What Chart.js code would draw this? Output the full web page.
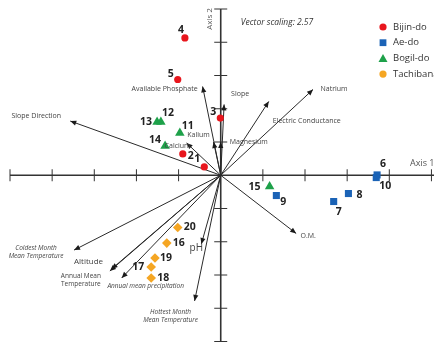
<!DOCTYPE html>
<html><head><meta charset="utf-8">
<script src="https://cdn.jsdelivr.net/npm/chart.js@4/dist/chart.umd.min.js"></script>
<style>html,body{margin:0;padding:0;background:#fff;overflow:hidden;}</style>
</head><body><canvas id="c" width="434" height="347"></canvas>
<script>
// ---------- DATA ----------
const groupNames = ['Bijin-do', 'Ae-do', 'Bogil-do', 'Tachibana'];
const bijinIds = [1, 2, 3, 4, 5];
const bijinAxis1 = [-0.39, -0.90, -0.01, -0.85, -1.02];
const bijinAxis2 = [0.25, 0.64, 1.72, 4.13, 2.88];
const aedoIds = [6, 7, 8, 9, 10];
const aedoAxis1 = [3.71, 2.68, 3.03, 1.32, 3.69];
const aedoAxis2 = [0.01, -0.79, -0.55, -0.61, -0.07];
const bogilIds = [11, 12, 13, 14, 15];
const bogilAxis1 = [-0.97, -1.42, -1.51, -1.32, 1.16];
const bogilAxis2 = [1.27, 1.60, 1.60, 0.88, -0.34];
const tachiIds = [16, 17, 18, 19, 20];
const tachiAxis1 = [-1.28, -1.65, -1.65, -1.56, -1.02];
const tachiAxis2 = [-2.04, -2.76, -3.09, -2.49, -1.57];

const vectorNames = ['Slope Direction', 'Available Phosphate', 'Slope', 'Magnesium', 'Kalium', 'Calcium',
  'Electric Conductance', 'Natrium', 'O.M.', 'pH', 'Hottest Month\nMean Temperature',
  'Annual mean precipitation', 'Annual Mean\nTemperature', 'Altitude', 'Coldest Month\nMean Temperature'];
const vectorAxis1 = [-3.57, -0.43, 0.08, 0.00, -0.17, -0.81, 1.14, 2.19, 1.79, -0.46, -0.62, -2.35, -2.63, -2.59, -3.48];
const vectorAxis2 = [1.63, 2.67, 2.13, 1.00, 1.00, 0.97, 2.22, 2.58, -1.75, -2.07, -3.78, -3.09, -2.88, -2.82, -2.25];

const axisTicks = [-5, -4, -3, -2, -1, 0, 1, 2, 3, 4, 5];
const axisTitles = ['Axis 1', 'Axis 2'];
const vectorScalingText = 'Vector scaling: 2.57';

// ---------- STYLES ----------
const FONT = '"Open Sans", "Noto Sans", sans-serif';
const groupColors = ['#e8161d', '#1b63b6', '#1ea14a', '#f5a623'];
const groupShapes = ['circle', 'rect', 'triangle', 'rectRot'];
const groupRadius = [3.6, 5, 5.5, 4.8];
// label offsets (px) for point ids
const pointLabelOffsets = {
  1: [-7, -8], 2: [8, 2], 3: [-7, -6], 4: [-4, -8], 5: [-7, -5],
  6: [6, -11], 7: [5, 10], 8: [11, 1], 9: [7, 6], 10: [9, 8],
  11: [8, -7], 12: [7, -9], 13: [-11, 0], 14: [-10, -6], 15: [-15, 0],
  16: [12, 0], 17: [-13, 0], 18: [12, 0], 19: [11, 0], 20: [12, 0]
};
// vector label style: [dx, dy, align, italic, size]
const vectorLabelStyle = [
  [-34, -5, 'center', false, 7],
  [-38, 3, 'center', false, 7],
  [16, -10, 'center', false, 7],
  [9, 0, 'left', false, 7],
  [-15, -7, 'center', false, 7],
  [-9, 3, 'center', false, 7],
  [38, 20, 'center', false, 7],
  [21, 0, 'center', false, 7],
  [12, 3, 'center', false, 7],
  [-5, 4, 'center', false, 10],
  [-24, 11, 'center', true, 6.5],
  [24, 8, 'center', true, 6.5],
  [-29, 5, 'center', false, 6.5],
  [-23, -7, 'center', false, 8],
  [-38, -2, 'center', true, 6.5]
];

function pts(a, b) { return a.map((v, i) => ({ x: v, y: b[i] })); }
const groupData = [
  { ids: bijinIds, d: pts(bijinAxis1, bijinAxis2) },
  { ids: aedoIds, d: pts(aedoAxis1, aedoAxis2) },
  { ids: bogilIds, d: pts(bogilAxis1, bogilAxis2) },
  { ids: tachiIds, d: pts(tachiAxis1, tachiAxis2) }
];

const datasets = [];
groupData.forEach((g, i) => {
  datasets.push({
    label: groupNames[i], data: g.d, ids: g.ids, isGroup: true,
    pointStyle: groupShapes[i], pointRadius: groupRadius[i], pointHoverRadius: groupRadius[i],
    backgroundColor: groupColors[i], borderColor: groupColors[i], borderWidth: 0,
    showLine: false, clip: false
  });
});
vectorNames.forEach((n, i) => {
  datasets.push({
    label: n, data: [{ x: 0, y: 0 }, { x: vectorAxis1[i], y: vectorAxis2[i] }], isVector: true, vIndex: i,
    showLine: true, pointRadius: 0, borderColor: '#2a2a2a', borderWidth: 1, clip: false
  });
});

const overlay = {
  id: 'overlay',
  beforeDatasetsDraw(chart) {
    const ctx = chart.ctx, xs = chart.scales.x, ys = chart.scales.y;
    const ox = xs.getPixelForValue(0), oy = ys.getPixelForValue(0);
    ctx.save();
    ctx.strokeStyle = '#333';
    ctx.lineWidth = 1.6;
    ctx.beginPath();
    ctx.moveTo(xs.getPixelForValue(-5), oy); ctx.lineTo(chart.width, oy);
    ctx.moveTo(ox, ys.getPixelForValue(5)); ctx.lineTo(ox, ys.getPixelForValue(-5));
    ctx.stroke();
    ctx.lineWidth = 1;
    ctx.beginPath();
    axisTicks.forEach(t => {
      if (t === 0) return;
      const px = xs.getPixelForValue(t);
      if (px <= chart.width) { ctx.moveTo(px, oy - 6); ctx.lineTo(px, oy + 6); }
      const py = ys.getPixelForValue(t);
      ctx.moveTo(ox - 6.5, py); ctx.lineTo(ox + 6.5, py);
    });
    ctx.stroke();
    ctx.restore();
  },
  afterDatasetsDraw(chart) {
    const ctx = chart.ctx, xs = chart.scales.x, ys = chart.scales.y;
    ctx.save();
    // arrowheads
    chart.data.datasets.forEach((ds, di) => {
      if (!ds.isVector) return;
      const meta = chart.getDatasetMeta(di);
      const p0 = meta.data[0], p1 = meta.data[1];
      const ang = Math.atan2(p1.y - p0.y, p1.x - p0.x);
      const L = 6, W = 2.6;
      ctx.fillStyle = '#1a1a1a';
      ctx.beginPath();
      ctx.moveTo(p1.x, p1.y);
      ctx.lineTo(p1.x - L * Math.cos(ang) + W * Math.sin(ang), p1.y - L * Math.sin(ang) - W * Math.cos(ang));
      ctx.lineTo(p1.x - L * Math.cos(ang) - W * Math.sin(ang), p1.y - L * Math.sin(ang) + W * Math.cos(ang));
      ctx.closePath();
      ctx.fill();
    });
    // point labels
    ctx.fillStyle = '#222';
    ctx.font = 'bold 10.5px ' + FONT;
    ctx.textAlign = 'center';
    ctx.textBaseline = 'middle';
    chart.data.datasets.forEach((ds, di) => {
      if (!ds.isGroup) return;
      const meta = chart.getDatasetMeta(di);
      meta.data.forEach((el, j) => {
        const id = ds.ids[j];
        const o = pointLabelOffsets[id];
        ctx.fillText(String(id), el.x + o[0], el.y + o[1]);
      });
    });
    // vector labels
    chart.data.datasets.forEach((ds, di) => {
      if (!ds.isVector) return;
      const meta = chart.getDatasetMeta(di);
      const p1 = meta.data[1];
      const st = vectorLabelStyle[ds.vIndex];
      ctx.fillStyle = '#444';
      ctx.font = (st[3] ? 'italic ' : '') + st[4] + 'px ' + FONT;
      ctx.textAlign = st[2];
      const lines = ds.label.split('\n');
      lines.forEach((ln, k) => {
        ctx.fillText(ln, p1.x + st[0], p1.y + st[1] + k * (st[4] + 1.5));
      });
    });
    // axis titles
    const ox = xs.getPixelForValue(0), oy = ys.getPixelForValue(0);
    ctx.fillStyle = '#555';
    ctx.font = '9px ' + FONT;
    ctx.textAlign = 'left';
    ctx.fillText(axisTitles[0], xs.getPixelForValue(4.49), oy - 12);
    ctx.save();
    ctx.translate(ox - 11, ys.getPixelForValue(4.7));
    ctx.rotate(-Math.PI / 2);
    ctx.textAlign = 'center';
    ctx.font = '8px ' + FONT;
    ctx.fillText(axisTitles[1], 0, 0);
    ctx.restore();
    // vector scaling
    ctx.fillStyle = '#333';
    ctx.font = 'italic 8.5px ' + FONT;
    ctx.textAlign = 'center';
    ctx.fillText(vectorScalingText, 277, 23);
    // legend
    groupNames.forEach((n, i) => {
      const y = 27 + i * 15.7, x = 383;
      ctx.fillStyle = groupColors[i];
      ctx.beginPath();
      if (i === 0 || i === 3) { ctx.arc(x, y, 3.6, 0, Math.PI * 2); }
      else if (i === 1) { ctx.rect(x - 3.4, y - 3.4, 6.8, 6.8); }
      else { ctx.moveTo(x, y - 4.5); ctx.lineTo(x + 4.5, y + 3.5); ctx.lineTo(x - 4.5, y + 3.5); ctx.closePath(); }
      ctx.fill();
      ctx.fillStyle = '#333';
      ctx.font = '9.5px ' + FONT;
      ctx.textAlign = 'left';
      ctx.fillText(n, 393, y);
    });
    ctx.restore();
  }
};

new Chart(document.getElementById('c'), {
  type: 'scatter',
  data: { datasets },
  options: {
    responsive: false,
    animation: false,
    layout: { padding: { left: 10, right: 0, top: 9, bottom: 3 } },
    plugins: { legend: { display: false }, tooltip: { enabled: false } },
    scales: {
      x: { type: 'linear', min: -5, max: 4.93, display: false },
      y: { type: 'linear', min: -5, max: 5, display: false }
    }
  },
  plugins: [overlay]
});
</script>
</body></html>
